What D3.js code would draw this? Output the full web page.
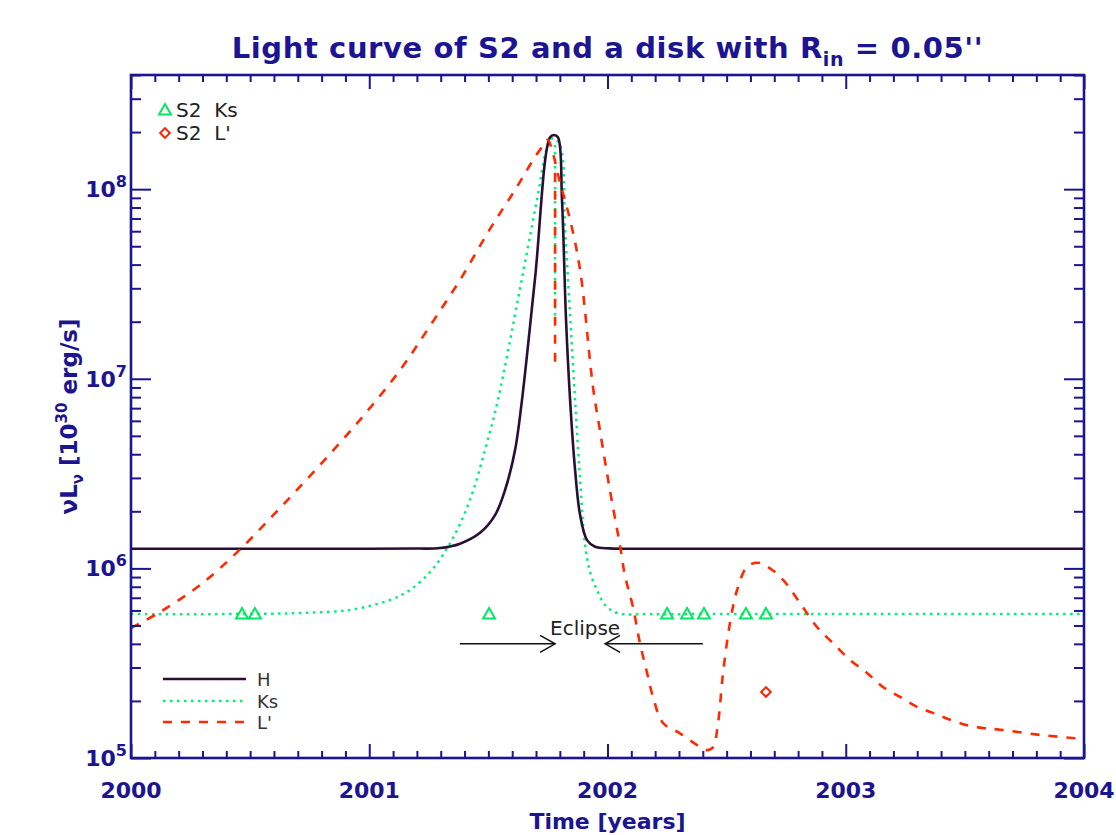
<!DOCTYPE html>
<html><head><meta charset="utf-8">
<script src="https://cdn.jsdelivr.net/npm/d3@7"></script>
<style>body{margin:0;background:#fff}</style>
</head><body>
<svg id="chart" width="1116" height="835"></svg>
<script>
// ---- data (years, nuL_nu in 1e30 erg/s) ----
const hYears  = [2000.0, 2000.5, 2001.0, 2001.2, 2001.297, 2001.381, 2001.465, 2001.528, 2001.570, 2001.612, 2001.641, 2001.696, 2001.759, 2001.775, 2001.792, 2001.809, 2001.826, 2001.843, 2001.864, 2001.885, 2001.914, 2001.948, 2002.010, 2002.1, 2002.3, 2002.6, 2003.0, 2003.5, 2004.0];
const hValues = [1.27e6, 1.27e6, 1.27e6, 1.272e6, 1.28e6, 1.35e6, 1.54e6, 1.91e6, 2.59e6, 4.21e6, 7.72e6, 3.40e7, 1.88e8, 1.93e8, 1.88e8, 8.77e7, 2.04e7, 7.72e6, 3.30e6, 1.91e6, 1.41e6, 1.30e6, 1.275e6, 1.27e6, 1.27e6, 1.27e6, 1.27e6, 1.27e6, 1.27e6];

const ksYears  = [2000.0, 2000.5, 2000.709, 2000.919, 2001.087, 2001.171, 2001.263, 2001.347, 2001.423, 2001.486, 2001.540, 2001.624, 2001.704, 2001.750, 2001.771, 2001.801, 2001.822, 2001.843, 2001.864, 2001.885, 2001.906, 2001.927, 2001.956, 2001.990, 2002.040, 2002.178, 2002.4, 2002.7, 2003.0, 2003.5, 2004.0];
const ksValues = [5.74e5, 5.75e5, 5.82e5, 6.04e5, 6.81e5, 7.69e5, 9.81e5, 1.41e6, 2.30e6, 4.21e6, 7.72e6, 2.61e7, 8.77e7, 1.71e8, 1.86e8, 1.71e8, 6.10e7, 2.17e7, 7.72e6, 2.93e6, 1.33e6, 9.57e5, 7.69e5, 6.41e5, 5.82e5, 5.74e5, 5.74e5, 5.74e5, 5.74e5, 5.74e5, 5.74e5];

const lpYears  = [2000.000, 2000.122, 2000.290, 2000.458, 2000.625, 2000.793, 2000.961, 2001.129, 2001.255, 2001.381, 2001.507, 2001.612, 2001.696, 2001.738, 2001.750, 2001.767, 2001.801, 2001.843, 2001.885, 2001.939, 2001.968, 2002.010, 2002.052, 2002.073, 2002.107, 2002.136, 2002.166, 2002.191, 2002.233, 2002.304, 2002.376, 2002.418, 2002.443, 2002.464, 2002.485, 2002.514, 2002.544, 2002.586, 2002.632, 2002.682, 2002.737, 2002.808, 2002.879, 2002.946, 2003.018, 2003.089, 2003.156, 2003.228, 2003.299, 2003.366, 2003.438, 2003.509, 2003.576, 2003.647, 2003.824, 2004.000];
const lpValues = [4.85e5, 5.89e5, 8.17e5, 1.26e6, 2.08e6, 3.51e6, 6.07e6, 1.11e7, 1.90e7, 3.32e7, 6.17e7, 9.91e7, 1.48e8, 1.75e8, 1.82e8, 1.61e8, 1.08e8, 6.89e7, 3.75e7, 9.06e6, 5.37e6, 2.59e6, 1.33e6, 9.20e5, 6.25e5, 4.04e5, 2.81e5, 2.10e5, 1.53e5, 1.35e5, 1.17e5, 1.10e5, 1.14e5, 1.53e5, 2.81e5, 5.15e5, 7.69e5, 1.02e6, 1.07e6, 1.00e6, 8.69e5, 6.57e5, 4.91e5, 4.04e5, 3.29e5, 2.81e5, 2.37e5, 2.10e5, 1.86e5, 1.73e5, 1.59e5, 1.49e5, 1.44e5, 1.41e5, 1.32e5, 1.26e5];

// short vertical features at eclipse centre
const ksSpikeYears  = [2001.780, 2001.780];
const ksSpikeValues = [1.71e8, 1.87e7];
const lpSpikeYears  = [2001.780, 2001.780];
const lpSpikeValues = [1.22e8, 1.15e7];

// observed points
const ksObsYears  = [2000.466, 2000.520, 2001.503, 2002.250, 2002.334, 2002.405, 2002.581, 2002.665];
const ksObsValues = [5.68e5, 5.68e5, 5.68e5, 5.68e5, 5.68e5, 5.68e5, 5.68e5, 5.68e5];
const lpObsYears  = [2002.665];
const lpObsValues = [2.23e5];

// eclipse annotation
const eclipseArrowLevel = 4.0e5;
const eclipseLeftArrow  = [2001.38, 2001.78];
const eclipseRightArrow = [2002.40, 2001.99];

const xTickValues = [2000, 2001, 2002, 2003, 2004];
const yTickExponents = [5, 6, 7, 8];

// ---- layout ----
const NAVY = "#1c1490";
const L = 131, R = 1084, T = 75, B = 758;
const svg = d3.select("#chart");
const x = d3.scaleLinear().domain([2000, 2004]).range([L, R]);
const y = d3.scaleLog().domain([1e5, 4e8]).range([B, T]);

const zip = (xs, vs) => xs.map((t, i) => ({t, v: vs[i]}));
const line = d3.line().x(d => x(d.t)).y(d => y(d.v)).curve(d3.curveCatmullRom.alpha(0.5));
const lineStraight = d3.line().x(d => x(d.t)).y(d => y(d.v));

svg.append("defs").append("clipPath").attr("id", "clip")
  .append("rect").attr("x", L).attr("y", T).attr("width", R - L).attr("height", B - T);

const plot = svg.append("g").attr("clip-path", "url(#clip)");

const KS_COL = "#00f07a", H_COL = "#2a0e36", LP_COL = "#ff2a00";
const KS_DASH = "2.5,4.5", LP_DASH = "9,9";

// curves
plot.append("path").attr("d", line(zip(ksYears, ksValues)))
  .attr("fill", "none").attr("stroke", KS_COL).attr("stroke-width", 2.5)
  .attr("stroke-dasharray", KS_DASH);
plot.append("path").attr("d", lineStraight(zip(ksSpikeYears, ksSpikeValues)))
  .attr("fill", "none").attr("stroke", KS_COL).attr("stroke-width", 2.5)
  .attr("stroke-dasharray", KS_DASH);
plot.append("path").attr("d", line(zip(hYears, hValues)))
  .attr("fill", "none").attr("stroke", H_COL).attr("stroke-width", 2.6);
plot.append("path").attr("d", line(zip(lpYears, lpValues)))
  .attr("fill", "none").attr("stroke", LP_COL).attr("stroke-width", 2.6)
  .attr("stroke-dasharray", LP_DASH);
plot.append("path").attr("d", lineStraight(zip(lpSpikeYears, lpSpikeValues)))
  .attr("fill", "none").attr("stroke", LP_COL).attr("stroke-width", 2.6)
  .attr("stroke-dasharray", LP_DASH);

// observed markers
const tri = d3.symbol().type(d3.symbolTriangle).size(62);
const dia = d3.symbol().type(d3.symbolSquare).size(46);
plot.selectAll(".ksobs").data(zip(ksObsYears, ksObsValues)).join("path")
  .attr("d", tri).attr("transform", d => `translate(${x(d.t)},${y(d.v)})`)
  .attr("fill", "none").attr("stroke", "#00e864").attr("stroke-width", 2);
plot.selectAll(".lpobs").data(zip(lpObsYears, lpObsValues)).join("path")
  .attr("d", dia).attr("transform", d => `translate(${x(d.t)},${y(d.v)}) rotate(45)`)
  .attr("fill", "none").attr("stroke", "#ff2200").attr("stroke-width", 2);

// eclipse arrows
const ay = y(eclipseArrowLevel);
function arrow(from, to) {
  const x0 = x(from), x1 = x(to), dir = Math.sign(x1 - x0);
  const g = svg.append("g").attr("stroke", "#111").attr("stroke-width", 1.5).attr("fill", "none");
  g.append("line").attr("x1", x0).attr("x2", x1).attr("y1", ay).attr("y2", ay);
  g.append("path").attr("d", `M${x1 - dir * 15},${ay - 8.5} L${x1},${ay} L${x1 - dir * 15},${ay + 8.5}`);
}
arrow(eclipseLeftArrow[0], eclipseLeftArrow[1]);
arrow(eclipseRightArrow[0], eclipseRightArrow[1]);
svg.append("text").attr("x", (x(eclipseLeftArrow[1]) + x(eclipseRightArrow[1])) / 2 + 5).attr("y", ay - 9)
  .attr("text-anchor", "middle").attr("font-family", "DejaVu Sans").attr("font-size", 20)
  .attr("fill", "#222").text("Eclipse");

// ---- axes ----
const minorX = d3.range(0, 41).map(i => 2000 + i * 0.1).filter(v => !xTickValues.some(t => Math.abs(t - v) < 1e-6));
const minorY = [];
yTickExponents.forEach(e => { for (let m = 2; m <= 9; m++) { const v = m * Math.pow(10, e); if (v <= 4e8) minorY.push(v); } });

function addAxis(gen, tr) {
  const g = svg.append("g").attr("transform", tr).call(gen);
  g.select(".domain").remove();
  g.selectAll("text").remove();
  g.selectAll("line").attr("stroke", NAVY).attr("stroke-width", 2);
}
const majY = yTickExponents.map(e => Math.pow(10, e));
addAxis(d3.axisBottom(x).tickValues(xTickValues).tickSize(-14), `translate(0,${B})`);
addAxis(d3.axisBottom(x).tickValues(minorX).tickSize(-7), `translate(0,${B})`);
addAxis(d3.axisTop(x).tickValues(xTickValues).tickSize(-14), `translate(0,${T})`);
addAxis(d3.axisTop(x).tickValues(minorX).tickSize(-7), `translate(0,${T})`);
addAxis(d3.axisLeft(y).tickValues(majY).tickSize(-20), `translate(${L},0)`);
addAxis(d3.axisLeft(y).tickValues(minorY).tickSize(-10), `translate(${L},0)`);
addAxis(d3.axisRight(y).tickValues(majY).tickSize(-20), `translate(${R},0)`);
addAxis(d3.axisRight(y).tickValues(minorY).tickSize(-10), `translate(${R},0)`);

svg.append("rect").attr("x", L).attr("y", T).attr("width", R - L).attr("height", B - T)
  .attr("fill", "none").attr("stroke", NAVY).attr("stroke-width", 2.6);

// tick labels
svg.selectAll(".xl").data(xTickValues).join("text")
  .attr("x", d => x(d)).attr("y", 798).attr("text-anchor", "middle")
  .attr("font-family", "DejaVu Sans").attr("font-weight", "bold").attr("font-size", 22)
  .attr("fill", NAVY).text(d => d3.format("d")(d));

const yl = svg.selectAll(".yl").data(yTickExponents).join("text")
  .attr("x", 127).attr("y", d => y(Math.pow(10, d)) + 8).attr("text-anchor", "end")
  .attr("font-family", "DejaVu Sans").attr("font-weight", "bold").attr("fill", NAVY);
yl.append("tspan").attr("font-size", 22).text("10");
yl.append("tspan").attr("font-size", 16).attr("dy", -10).text(d => d);

// axis titles
svg.append("text").attr("x", (L + R) / 2).attr("y", 829).attr("text-anchor", "middle")
  .attr("font-family", "DejaVu Sans").attr("font-weight", "bold").attr("font-size", 22)
  .attr("fill", NAVY).text("Time [years]");

const ylab = svg.append("text").attr("transform", `translate(77,${(T + B) / 2}) rotate(-90)`)
  .attr("text-anchor", "middle").attr("font-family", "DejaVu Sans").attr("font-weight", "bold")
  .attr("font-size", 23).attr("fill", NAVY);
ylab.append("tspan").text("\u03BDL");
ylab.append("tspan").attr("font-size", 15).attr("dy", 6).text("\u03BD");
ylab.append("tspan").attr("dy", -6).text(" [10");
ylab.append("tspan").attr("font-size", 15).attr("dy", -10).text("30");
ylab.append("tspan").attr("dy", 10).text(" erg/s]");

// title
const title = svg.append("text").attr("x", (L + R) / 2).attr("y", 58).attr("text-anchor", "middle")
  .attr("font-family", "DejaVu Sans").attr("font-weight", "bold").attr("font-size", 29)
  .attr("letter-spacing", 0.6).attr("fill", NAVY);
title.append("tspan").text("Light curve of S2 and a disk with R");
title.append("tspan").attr("font-size", 19).attr("dy", 8).text("in");
title.append("tspan").attr("dy", -8).text(" = 0.05''");

// top-left legend (observations)
const legT = svg.append("g").attr("font-family", "DejaVu Sans").attr("font-size", 20).attr("fill", "#222");
legT.append("path").attr("d", tri).attr("transform", "translate(165,111)")
  .attr("fill", "none").attr("stroke", "#00e864").attr("stroke-width", 2);
legT.append("text").attr("x", 176).attr("y", 117).attr("xml:space", "preserve").text("S2  Ks");
legT.append("path").attr("d", dia).attr("transform", "translate(165,133) rotate(45)")
  .attr("fill", "none").attr("stroke", "#ff2200").attr("stroke-width", 2);
legT.append("text").attr("x", 176).attr("y", 140).attr("xml:space", "preserve").text("S2  L'");

// bottom-left legend (models)
const legItems = [
  {name: "H", color: H_COL, dash: null, yy: 679},
  {name: "Ks", color: KS_COL, dash: KS_DASH, yy: 701},
  {name: "L'", color: LP_COL, dash: LP_DASH, yy: 722}
];
const legB = svg.append("g");
legItems.forEach(it => {
  legB.append("line").attr("x1", 163).attr("x2", 246).attr("y1", it.yy).attr("y2", it.yy)
    .attr("stroke", it.color).attr("stroke-width", 2.6).attr("stroke-dasharray", it.dash);
  legB.append("text").attr("x", 257).attr("y", it.yy + 6.5).attr("font-family", "DejaVu Sans")
    .attr("font-size", 18).attr("fill", "#333").text(it.name);
});
</script>
</body></html>
